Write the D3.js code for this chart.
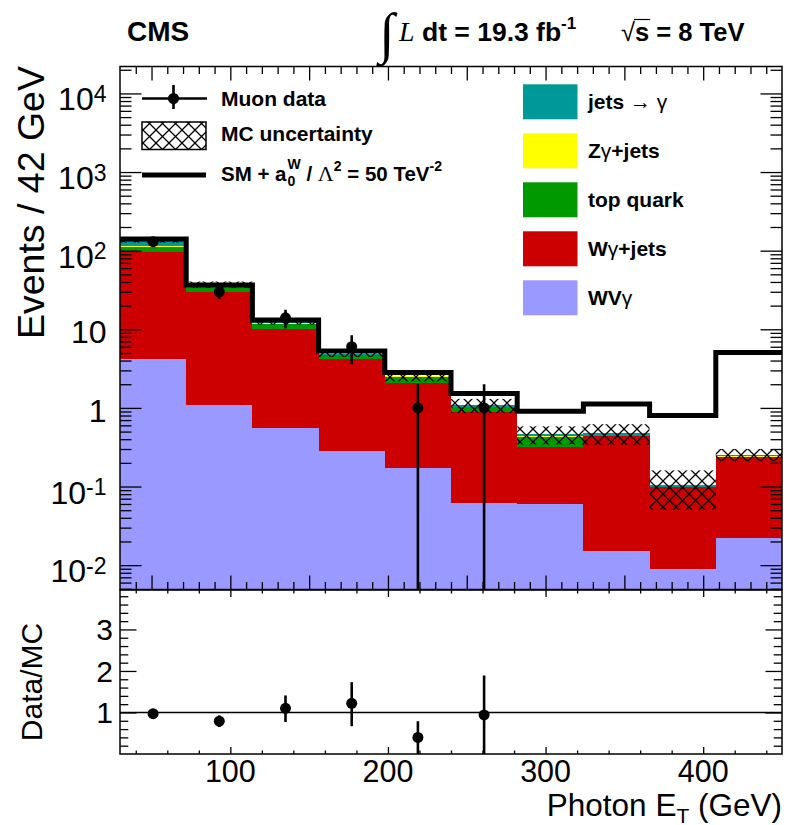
<!DOCTYPE html>
<html>
<head>
<meta charset="utf-8">
<script src="https://cdn.jsdelivr.net/npm/d3@7"></script>
<style>
  body { margin: 0; background: #fff; }
  svg { display: block; }
  text { white-space: pre; }
</style>
</head>
<body>
<svg id="chart" width="787" height="825"></svg>
<script>
// ---- Photon E_T distribution, 42 GeV bins from 30 to 450 GeV ----
const binEdges = [30, 72, 114, 156, 198, 240, 282, 324, 366, 408, 450];

// Stacked background predictions (events per bin), bottom to top
const wvgamma   = [4.2, 1.08, 0.56, 0.28, 0.17, 0.062, 0.060, 0.0152, 0.009, 0.0223];
const wgjets    = [92.8, 29.0, 9.54, 3.88, 1.91, 0.83, 0.259, 0.425, 0.090, 0.216];
const topquark  = [15.3, 3.1, 1.6, 0.56, 0.42, 0.13, 0.109, 0.003, 0.0, 0.002];
const zgjets    = [1.5, 0.5, 0.2, 0.05, 0.01, 0.01, 0.005, 0.002, 0.0005, 0.001];
const jetsgamma = [20.2, 3.3, 0.8, 0.13, 0.01, 0.05, 0.03, 0.035, 0.006, 0.014];

// MC uncertainty (absolute, per bin)
const mcUnc = [7, 3.5, 1.2, 0.45, 0.35, 0.22, 0.12, 0.14, 0.055, 0.045];

// SM + anomalous coupling prediction (a0W / Lambda^2 = 50 TeV^-2)
const aqgc = [141, 36.6, 13.1, 5.3, 2.83, 1.52, 0.906, 1.12, 0.80, 5.07];

// Muon data (bins 1-6 have entries)
const dataCounts = [130, 30, 14, 6, 1, 1];
const dataErrHi  = [11.4, 5.5, 3.7, 2.4, 1.0, 1.0];
const dataErrLo  = [11.4, 5.5, 3.7, 2.4, 1.0, 1.0];

// Data / MC ratio
const ratioVals  = [0.97, 0.79, 1.10, 1.22, 0.40, 0.94];
const ratioErrHi = [0.09, 0.14, 0.31, 0.51, 0.39, 0.95];
const ratioErrLo = [0.09, 0.14, 0.33, 0.55, 0.40, 0.94];

// Axis ticks
const xMajorMain = [50, 100, 150, 200, 250, 300, 350, 400];
const xMinorMain = d3.range(40, 450, 10).filter(v => v % 50 !== 0);
const xMajorRatio = [100, 200, 300, 400];
const xMinorRatio = d3.range(40, 450, 20).filter(v => v % 100 !== 0);
const yDecades = [-2, -1, 0, 1, 2, 3, 4];
const yRatioMajor = [1, 2, 3];
const yRatioMinor = d3.range(1, 20).map(i => i * 0.2).filter(v => Math.abs(v - Math.round(v)) > 1e-6);

const stackKeys = ["wvgamma", "wgjets", "topquark", "zgjets", "jetsgamma"];
const stackColors = {
  wvgamma: "#9999ff", wgjets: "#cc0000", topquark: "#009900",
  zgjets: "#ffff00", jetsgamma: "#009999"
};

// ---------------------------------------------------------------
const F  = "'Liberation Sans', Arial, Helvetica, sans-serif";
const FS = "'Liberation Serif', 'Times New Roman', serif";

const L = 120, R = 782, T = 66.5, MB = 589.5, RT = 590, RB = 754;

const svg = d3.select("#chart");
const x  = d3.scaleLinear().domain([30, 450]).range([L, R]);
const y  = d3.scaleLog().domain([0.0049, 2.2e4]).range([MB, T]);
const yr = d3.scaleLinear().domain([0, 3.95]).range([RB, RT]);

const defs = svg.append("defs");
defs.append("clipPath").attr("id", "clipMain")
  .append("rect").attr("x", L).attr("y", T).attr("width", R - L).attr("height", MB - T);
defs.append("clipPath").attr("id", "clipRatio")
  .append("rect").attr("x", L).attr("y", RT).attr("width", R - L).attr("height", RB - RT);
const pat = defs.append("pattern").attr("id", "hatch")
  .attr("patternUnits", "userSpaceOnUse").attr("width", 13).attr("height", 13);
pat.append("path").attr("d", "M0,0L13,13M13,0L0,13")
  .attr("stroke", "#000").attr("stroke-width", 1.3).attr("fill", "none");

// text with sub/superscripts laid out piece by piece
function rich(parent, x0, y0, parts, anchor) {
  const g = parent.append("g");
  let cx = 0, prevX = 0;
  const boxes = [];
  parts.forEach(p => {
    const t = g.append("text")
      .attr("y", p.dy || 0)
      .attr("font-family", p.family || F)
      .attr("font-size", p.size)
      .attr("font-weight", p.weight || "normal")
      .attr("font-style", p.style || "normal")
      .attr("fill", "#000")
      .text(p.t);
    const px = (p.stack ? prevX : cx) + (p.dx || 0);
    t.attr("x", px);
    const w = t.node().getComputedTextLength();
    if (p.stack) cx = Math.max(cx, px + w);
    else { prevX = px; cx = px + w; }
    boxes.push({ x: px, w: w });
  });
  const shift = anchor === "end" ? -cx : anchor === "middle" ? -cx / 2 : 0;
  g.attr("transform", `translate(${x0 + shift},${y0})`);
  boxes.forEach(b => { b.x += x0 + shift; });
  return boxes;
}

// ---------------- main panel ----------------
const table = binEdges.slice(0, -1).map((e, i) => ({
  lo: e, hi: binEdges[i + 1],
  wvgamma: wvgamma[i], wgjets: wgjets[i], topquark: topquark[i],
  zgjets: zgjets[i], jetsgamma: jetsgamma[i]
}));
const stacked = d3.stack().keys(stackKeys)(table);

const main = svg.append("g").attr("clip-path", "url(#clipMain)");
stacked.forEach(series => {
  main.append("g").selectAll("rect").data(series).join("rect")
    .attr("x", d => x(d.data.lo))
    .attr("width", d => x(d.data.hi) - x(d.data.lo))
    .attr("y", d => y(Math.max(d[1], 1e-9)))
    .attr("height", d => (d[0] > 0 ? y(d[0]) : MB) - y(Math.max(d[1], 1e-9)))
    .attr("fill", stackColors[series.key])
    .attr("shape-rendering", "crispEdges");
});

// MC uncertainty band
const totals = table.map(d => stackKeys.reduce((s, k) => s + d[k], 0));
main.append("g").selectAll("rect").data(table).join("rect")
  .attr("x", d => x(d.lo))
  .attr("width", d => x(d.hi) - x(d.lo))
  .attr("y", (d, i) => y(totals[i] + mcUnc[i]))
  .attr("height", (d, i) => y(Math.max(totals[i] - mcUnc[i], 1e-6)) - y(totals[i] + mcUnc[i]))
  .attr("fill", "url(#hatch)");

// SM + aQGC step line
const stepPts = [];
aqgc.forEach((v, i) => { stepPts.push([binEdges[i], v]); stepPts.push([binEdges[i + 1], v]); });
main.append("path")
  .attr("d", d3.line().x(d => x(d[0])).y(d => y(d[1]))(stepPts))
  .attr("fill", "none").attr("stroke", "#000").attr("stroke-width", 5)
  .attr("stroke-linejoin", "miter");

// data points
const centers = binEdges.slice(0, -1).map((e, i) => (e + binEdges[i + 1]) / 2);
dataCounts.forEach((v, i) => {
  const lo = v - dataErrLo[i];
  main.append("line")
    .attr("x1", x(centers[i])).attr("x2", x(centers[i]))
    .attr("y1", y(v + dataErrHi[i])).attr("y2", lo > 0 ? y(lo) : MB + 2)
    .attr("stroke", "#000").attr("stroke-width", 2.6);
  main.append("circle").attr("cx", x(centers[i])).attr("cy", y(v)).attr("r", 5.5).attr("fill", "#000");
});

// ---------------- ratio panel ----------------
const ratio = svg.append("g").attr("clip-path", "url(#clipRatio)");
ratio.append("line").attr("x1", L).attr("x2", R).attr("y1", yr(1)).attr("y2", yr(1))
  .attr("stroke", "#000").attr("stroke-width", 1.5);
ratioVals.forEach((v, i) => {
  ratio.append("line")
    .attr("x1", x(centers[i])).attr("x2", x(centers[i]))
    .attr("y1", yr(v + ratioErrHi[i])).attr("y2", yr(Math.max(v - ratioErrLo[i], -0.1)))
    .attr("stroke", "#000").attr("stroke-width", 2.6);
  ratio.append("circle").attr("cx", x(centers[i])).attr("cy", yr(v)).attr("r", 5.5).attr("fill", "#000");
});

// ---------------- ticks ----------------
function ticks(axis, tx, ty) {
  const g = svg.append("g").attr("transform", `translate(${tx},${ty})`).call(axis);
  g.select(".domain").remove();
  g.selectAll("line").attr("stroke", "#000").attr("stroke-width", 1.3);
  g.selectAll("text").remove();
}
const yMinor = [];
for (let k = -3; k <= 4; k++) for (let m = 2; m <= 9; m++) {
  const v = m * Math.pow(10, k);
  if (v > y.domain()[0] && v < y.domain()[1]) yMinor.push(v);
}
const yMajor = yDecades.map(k => Math.pow(10, k));
// main panel
ticks(d3.axisTop(x).tickValues(xMajorMain).tickSize(14).tickFormat(""), 0, MB);
ticks(d3.axisTop(x).tickValues(xMinorMain).tickSize(7.5).tickFormat(""), 0, MB);
ticks(d3.axisBottom(x).tickValues(xMajorMain).tickSize(14).tickFormat(""), 0, T);
ticks(d3.axisBottom(x).tickValues(xMinorMain).tickSize(7.5).tickFormat(""), 0, T);
ticks(d3.axisRight(y).tickValues(yMajor).tickSize(21.5).tickFormat(""), L, 0);
ticks(d3.axisRight(y).tickValues(yMinor).tickSize(11.5).tickFormat(""), L, 0);
ticks(d3.axisLeft(y).tickValues(yMajor).tickSize(21.5).tickFormat(""), R, 0);
ticks(d3.axisLeft(y).tickValues(yMinor).tickSize(11.5).tickFormat(""), R, 0);
// ratio panel
ticks(d3.axisTop(x).tickValues(xMajorRatio).tickSize(7).tickFormat(""), 0, RB);
ticks(d3.axisTop(x).tickValues(xMinorRatio).tickSize(3.5).tickFormat(""), 0, RB);
ticks(d3.axisBottom(x).tickValues(xMajorRatio).tickSize(7).tickFormat(""), 0, RT);
ticks(d3.axisBottom(x).tickValues(xMinorRatio).tickSize(3.5).tickFormat(""), 0, RT);
ticks(d3.axisRight(yr).tickValues(yRatioMajor).tickSize(16.5).tickFormat(""), L, 0);
ticks(d3.axisRight(yr).tickValues(yRatioMinor).tickSize(8.3).tickFormat(""), L, 0);
ticks(d3.axisLeft(yr).tickValues(yRatioMajor).tickSize(16.5).tickFormat(""), R, 0);
ticks(d3.axisLeft(yr).tickValues(yRatioMinor).tickSize(8.3).tickFormat(""), R, 0);

// frames
svg.append("rect").attr("x", L).attr("y", T).attr("width", R - L).attr("height", MB - T)
  .attr("fill", "none").attr("stroke", "#000").attr("stroke-width", 1.5);
svg.append("rect").attr("x", L).attr("y", RT).attr("width", R - L).attr("height", RB - RT)
  .attr("fill", "none").attr("stroke", "#000").attr("stroke-width", 1.5);

// ---------------- tick labels ----------------
const labelSize = 32;
yDecades.forEach(k => {
  const ty = y(Math.pow(10, k));
  if (k === 0) rich(svg, 106.5, ty + 14, [{ t: "1", size: labelSize }], "end");
  else if (k === 1) rich(svg, 106.5, ty + 14, [{ t: "10", size: labelSize }], "end");
  else rich(svg, 106.5, ty + 17, [
    { t: "10", size: labelSize },
    { t: String(k), size: 23, dy: -8.5 }
  ], "end");
});
yRatioMajor.forEach(v => {
  rich(svg, 113, yr(v) + 11, [{ t: String(v), size: 30 }], "end");
});
xMajorRatio.forEach(v => {
  rich(svg, x(v), 782, [{ t: String(v), size: 30.5 }], "middle");
});

// axis titles
svg.append("text")
  .attr("transform", "translate(44,66) rotate(-90)")
  .attr("text-anchor", "end").attr("font-family", F).attr("font-size", 37.5)
  .text("Events / 42 GeV");
svg.append("text")
  .attr("transform", "translate(42,682) rotate(-90)")
  .attr("text-anchor", "middle").attr("font-family", F).attr("font-size", 30)
  .text("Data/MC");
rich(svg, 782, 816, [
  { t: "Photon E", size: 31.5 },
  { t: "T", size: 21, dy: 6.5 },
  { t: " (GeV)", size: 31.5 }
], "end");

// ---------------- header ----------------
rich(svg, 127, 41, [{ t: "CMS", size: 28, weight: "bold" }]);
svg.append("text").attr("x", 379).attr("y", 52).attr("font-family", FS)
  .attr("font-size", 56).text("\u222B");
rich(svg, 399, 41, [
  { t: "L", size: 28, family: FS, style: "italic" },
  { t: " dt = 19.3 fb", size: 26.5, weight: "bold" },
  { t: "-1", size: 17, weight: "bold", dy: -12 }
]);
const sq = rich(svg, 621, 41, [
  { t: "\u221A", size: 25.5 },
  { t: "s", size: 25.5, weight: "bold" },
  { t: " = 8 TeV", size: 25.5, weight: "bold" }
]);
svg.append("line")
  .attr("x1", sq[0].x + sq[0].w - 1).attr("x2", sq[1].x + sq[1].w + 1)
  .attr("y1", 41 - 21.5).attr("y2", 41 - 21.5)
  .attr("stroke", "#000").attr("stroke-width", 1.2);

// ---------------- legends ----------------
const lg = svg.append("g");
// muon data
lg.append("line").attr("x1", 142).attr("x2", 207).attr("y1", 98.5).attr("y2", 98.5)
  .attr("stroke", "#000").attr("stroke-width", 2.6);
lg.append("line").attr("x1", 173.5).attr("x2", 173.5).attr("y1", 85).attr("y2", 109)
  .attr("stroke", "#000").attr("stroke-width", 2.6);
lg.append("circle").attr("cx", 173.5).attr("cy", 98.5).attr("r", 5.5).attr("fill", "#000");
rich(lg, 221, 106, [{ t: "Muon data", size: 21, weight: "bold" }]);
// MC uncertainty
lg.append("rect").attr("x", 142).attr("y", 122).attr("width", 64).attr("height", 27.5)
  .attr("fill", "url(#hatch)").attr("stroke", "#000").attr("stroke-width", 1.5);
rich(lg, 221, 141, [{ t: "MC uncertainty", size: 21, weight: "bold" }]);
// SM + aQGC
lg.append("line").attr("x1", 142).attr("x2", 206).attr("y1", 175).attr("y2", 175)
  .attr("stroke", "#000").attr("stroke-width", 5);
rich(lg, 221, 181, [
  { t: "SM + a", size: 20.5, weight: "bold" },
  { t: "W", size: 14, weight: "bold", dy: -12, dx: 1 },
  { t: "0", size: 14, weight: "bold", dy: 5, stack: true },
  { t: " / ", size: 20.5, weight: "bold" },
  { t: "\u039B", size: 22, family: FS },
  { t: "2", size: 14, weight: "bold", dy: -10 },
  { t: " = 50 TeV", size: 20.5, weight: "bold" },
  { t: "-2", size: 14, weight: "bold", dy: -10 }
]);

// process legend
const procLegend = [
  { key: "jetsgamma", parts: [{ t: "jets ", weight: "bold" }, { t: "\u2192 \u03B3" }] },
  { key: "zgjets",    parts: [{ t: "Z", weight: "bold" }, { t: "\u03B3" }, { t: "+jets", weight: "bold" }] },
  { key: "topquark",  parts: [{ t: "top quark", weight: "bold" }] },
  { key: "wgjets",    parts: [{ t: "W", weight: "bold" }, { t: "\u03B3" }, { t: "+jets", weight: "bold" }] },
  { key: "wvgamma",   parts: [{ t: "WV", weight: "bold" }, { t: "\u03B3" }] }
];
procLegend.forEach((p, i) => {
  const top = 84.3 + i * 49;
  lg.append("rect").attr("x", 523).attr("y", top).attr("width", 54.5).attr("height", 35)
    .attr("fill", stackColors[p.key]);
  rich(lg, 588, top + 25, p.parts.map(q => Object.assign({ size: 21 }, q)));
});
</script>
</body>
</html>
